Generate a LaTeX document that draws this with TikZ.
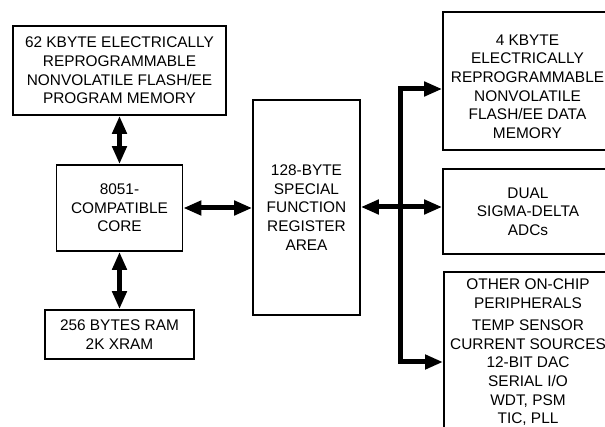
\documentclass[tikz,border=0pt]{standalone}
\usepackage{fontspec}
\setmainfont{Liberation Sans}
\usetikzlibrary{arrows.meta}
\begin{document}
\begin{tikzpicture}[x=1pt,y=-1pt,
  box/.style={draw=black,line width=1.7pt,inner sep=0pt,align=center,
    font=\fontsize{15.4}{18.6}\selectfont},
  txt/.style={inner sep=0pt,align=center,font=\fontsize{15.4}{18.6}\selectfont},
  dbl/.style={line width=5pt,{Triangle[length=18pt,width=14pt]}-{Triangle[length=18pt,width=14pt]}},
  bus/.style={line width=5pt,line join=miter,{Triangle[length=18pt,width=14pt]}-{Triangle[length=18pt,width=14pt]}}]
\useasboundingbox (0,0) rectangle (605,427);
% left column
\node[box,minimum width=213pt,minimum height=89pt] (pm) at (119.5,70.5)
  {62 KBYTE ELECTRICALLY\\REPROGRAMMABLE\\NONVOLATILE FLASH/EE\\PROGRAM MEMORY};
\node[box,minimum width=126pt,minimum height=86pt] (core) at (119.5,208)
  {8051-\\COMPATIBLE\\CORE};
\node[box,minimum width=149pt,minimum height=49pt] (ram) at (119.5,334.5)
  {256 BYTES RAM\\2K XRAM};
% SFR
\node[box,minimum width=107pt,minimum height=215pt] (sfr) at (306.5,207.5)
  {128-BYTE\\SPECIAL\\FUNCTION\\REGISTER\\AREA};
% right column (cut off at right edge)
\node[box,minimum width=170pt,minimum height=138pt] (dm) at (528,81) {};
\node[txt] (dmt) at (527.5,86.5)
  {4 KBYTE\\ELECTRICALLY\\REPROGRAMMABLE\\NONVOLATILE\\FLASH/EE DATA\\MEMORY};
\node[box,minimum width=170pt,minimum height=85pt] (adc) at (528,211.5)
  {DUAL\\SIGMA-DELTA\\ADCs};
\node[box,minimum width=170pt,minimum height=180pt,anchor=north west] (per) at (443,271) {};
\node[txt,anchor=north] (pert) at (528,279)
  {OTHER ON-CHIP\\PERIPHERALS\\[3.5pt]TEMP SENSOR\\CURRENT SOURCES\\12-BIT DAC\\SERIAL I/O\\WDT, PSM\\TIC, PLL};
% connectors
\draw[dbl] (pm) -- (core);
\draw[dbl] (core) -- (ram);
\draw[dbl] (core.east) -- (core.east -| sfr.west);
\draw[dbl] (sfr.east |- 0,207) -- (adc.west |- 0,207);
\coordinate (btop) at (400,89);
\coordinate (bbot) at (400,362);
\draw[bus] (btop -| dm.west) -- (btop) -- (bbot) -- (bbot -| per.west);
\end{tikzpicture}
\end{document}
